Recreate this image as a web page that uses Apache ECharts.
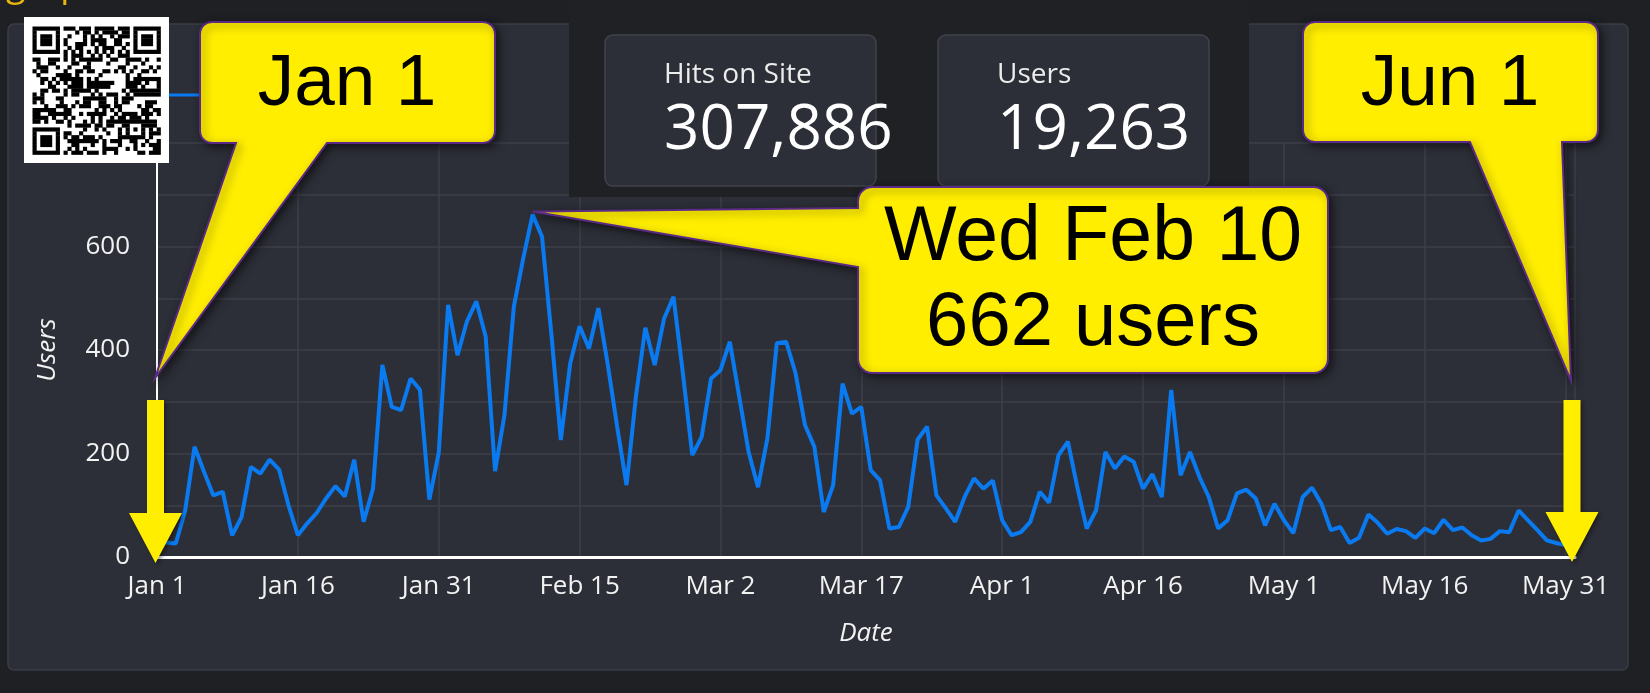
<!DOCTYPE html>
<html>
<head>
<meta charset="utf-8">
<script src="https://cdn.jsdelivr.net/npm/echarts@6/dist/echarts.min.js"></script>
<style>
html, body { margin: 0; padding: 0; background: #1f2024; }
#chart { width: 1650px; height: 693px; }
</style>
</head>
<body>
<div id="chart"></div>
<script>
// daily users, Jan 1 .. May 31 2021
var users = [
  28, 28, 26, 90, 213, 165, 119, 126, 42, 77,
  174, 161, 188, 169, 100, 42, 65, 85, 113, 137,
  117, 188, 68, 132, 371, 290, 284, 345, 323, 111,
  201, 487, 390, 455, 494, 426, 166, 274, 484, 577,
  662, 619, 430, 226, 374, 446, 403, 481, 372, 252,
  139, 310, 443, 371, 461, 503, 355, 197, 232, 345,
  361, 416, 310, 203, 135, 229, 413, 416, 355, 255,
  213, 87, 139, 335, 277, 290, 168, 148, 55, 58,
  97, 227, 252, 119, 94, 68, 116, 152, 132, 148,
  71, 42, 48, 68, 126, 105, 197, 223, 135, 55,
  90, 203, 171, 194, 184, 132, 160, 116, 323, 158,
  203, 155, 116, 55, 71, 123, 130, 113, 61, 103,
  71, 46, 116, 134, 103, 52, 58, 27, 37, 82,
  66, 45, 54, 50, 37, 55, 46, 72, 52, 57,
  42, 32, 35, 50, 48, 90, 71, 52, 32, 27,
  23
];
var startDate = [2021, 0, 1];
var dayCount = 151;          // Jan 1 .. Jun 1
var dayStep = 15;
var userMax = 800;
var userStep = 100;
var userLabelStep = 200;
var stats = [
  { title: 'Hits on Site', value: '307,886' },
  { title: 'Users', value: '19,263' }
];
var peakDay = 40;

var MONTHS = ['Jan','Feb','Mar','Apr','May','Jun','Jul','Aug','Sep','Oct','Nov','Dec'];
var WEEKDAYS = ['Sun','Mon','Tue','Wed','Thu','Fri','Sat'];
function dayDate(i) {
  return new Date(startDate[0], startDate[1], startDate[2] + i);
}
function shortDate(i) {
  var d = dayDate(i);
  return MONTHS[d.getMonth()] + ' ' + d.getDate();
}

var FONT = '"Open Sans", "Noto Sans", sans-serif';
var CALLOUT_FONT = '"Liberation Sans", Arial, sans-serif';
var YELLOW = '#ffee00';
var PURPLE = '#5b2a86';
var LABEL = '#f2f2f2';

var chart = echarts.init(document.getElementById('chart'));

chart.setOption({
  backgroundColor: '#1f2024',
  animation: false,
  textStyle: { fontFamily: FONT },
  legend: {
    data: ['Users'],
    left: 160,
    top: 78,
    icon: 'rect',
    itemWidth: 38,
    itemHeight: 3,
    textStyle: { color: LABEL, fontSize: 24, fontFamily: FONT }
  },
  grid: { left: 157, right: 75, top: 143, bottom: 136 },
  xAxis: {
    type: 'value',
    min: 0,
    max: dayCount,
    interval: dayStep,
    name: 'Date',
    nameLocation: 'middle',
    nameGap: 64,
    nameTextStyle: { color: LABEL, fontSize: 26, fontStyle: 'italic', fontWeight: 500, fontFamily: FONT },
    axisLine: { show: true, lineStyle: { color: '#ffffff', width: 3 } },
    axisTick: { show: false },
    axisLabel: {
      color: LABEL,
      fontSize: 26,
      fontWeight: 500,
      fontFamily: FONT,
      margin: 17,
      showMaxLabel: false,
      formatter: function (v) { return v % dayStep === 0 ? shortDate(v) : ''; }
    },
    splitLine: { show: true, lineStyle: { color: '#3c3f48', width: 1.5 } }
  },
  yAxis: {
    type: 'value',
    min: 0,
    max: userMax,
    interval: userStep,
    name: 'Users',
    nameLocation: 'middle',
    nameRotate: 90,
    nameGap: 96,
    nameTextStyle: { color: LABEL, fontSize: 26, fontStyle: 'italic', fontWeight: 500, fontFamily: FONT },
    axisLine: { show: true, lineStyle: { color: '#ffffff', width: 2 } },
    axisTick: { show: false },
    axisLabel: {
      color: LABEL,
      fontSize: 26,
      fontWeight: 500,
      fontFamily: FONT,
      margin: 27,
      formatter: function (v) { return v % userLabelStep === 0 ? String(v) : ''; }
    },
    splitLine: { show: true, lineStyle: { color: '#3c3f48', width: 1.5 } }
  },
  series: [{
    name: 'Users',
    type: 'line',
    symbol: 'none',
    color: '#0a7af0',
    lineStyle: { color: '#0a7af0', width: 4 },
    data: users.map(function (v, i) { return [i, v]; })
  }]
});

// ---- overlay graphics ----
// rounded box with a pointer tail, as polygon points
function corner(pts, cx, cy, r, a0) {
  for (var k = 0; k <= 6; k++) {
    var a = (a0 + k * 15) * Math.PI / 180;
    pts.push([cx + r * Math.cos(a), cy + r * Math.sin(a)]);
  }
}
function bubble(x0, y0, x1, y1, r, tail) {
  var pts = [];
  corner(pts, x1 - r, y0 + r, r, 270);   // top-right
  corner(pts, x1 - r, y1 - r, r, 0);     // bottom-right
  if (tail.side === 'bottom') {
    pts.push([tail.b, y1], tail.tip, [tail.a, y1]);
  }
  corner(pts, x0 + r, y1 - r, r, 90);    // bottom-left
  if (tail.side === 'left') {
    pts.push([x0, tail.b], tail.tip, [x0, tail.a]);
  }
  corner(pts, x0 + r, y0 + r, r, 180);   // top-left
  return pts;
}

function bubbleEl(pts) {
  return {
    type: 'polygon',
    z: 60,
    shape: { points: pts },
    style: {
      fill: YELLOW, stroke: PURPLE, lineWidth: 2, lineJoin: 'miter',
      shadowBlur: 8, shadowOffsetX: 3, shadowOffsetY: 3, shadowColor: 'rgba(0,0,0,0.55)'
    }
  };
}

function bubbleText(x, y, text, size) {
  return {
    type: 'text', z: 61, x: x, y: y,
    style: {
      text: text, fill: '#000000', font: size + 'px ' + CALLOUT_FONT,
      align: 'center', verticalAlign: 'middle'
    }
  };
}

function downArrow(cx, yTop, yHead, yTip) {
  return {
    type: 'polygon', z: 60,
    shape: { points: [
      [cx - 8.5, yTop], [cx + 8.5, yTop], [cx + 8.5, yHead], [cx + 26.5, yHead],
      [cx, yTip], [cx - 26.5, yHead], [cx - 8.5, yHead]
    ] },
    style: { fill: YELLOW, shadowBlur: 4, shadowOffsetX: 2, shadowOffsetY: 2, shadowColor: 'rgba(0,0,0,0.4)' }
  };
}

// QR-like decoration (finders, timing, alignment + fixed pattern) as rect runs
function qrRects(ox, oy, s) {
  var N = 33, m = [], r, c;
  for (r = 0; r < N; r++) { m.push([]); for (c = 0; c < N; c++) m[r].push(null); }
  function finder(R, C) {
    for (var dr = -1; dr <= 7; dr++) for (var dc = -1; dc <= 7; dc++) {
      var rr = R + dr, cc = C + dc;
      if (rr < 0 || cc < 0 || rr >= N || cc >= N) continue;
      var on = dr >= 0 && dr <= 6 && dc >= 0 && dc <= 6 &&
        (dr === 0 || dr === 6 || dc === 0 || dc === 6 || (dr >= 2 && dr <= 4 && dc >= 2 && dc <= 4));
      m[rr][cc] = on;
    }
  }
  finder(0, 0); finder(0, N - 7); finder(N - 7, 0);
  for (var i = 8; i < N - 8; i++) { m[6][i] = i % 2 === 0; m[i][6] = i % 2 === 0; }
  for (var dr = -2; dr <= 2; dr++) for (var dc = -2; dc <= 2; dc++) {
    m[26 + dr][26 + dc] = Math.max(Math.abs(dr), Math.abs(dc)) !== 1;
  }
  for (r = 0; r < N; r++) for (c = 0; c < N; c++) {
    if (m[r][c] === null) {
      var h = Math.imul(r * 31 + 7, 0x9e3779b1) ^ Math.imul(c * 17 + 3, 0x85ebca6b);
      h = Math.imul(h ^ (h >>> 15), 0x2c1b3c6d);
      m[r][c] = ((h >>> 12) & 15) < 8;
    }
  }
  var out = [];
  for (r = 0; r < N; r++) {
    c = 0;
    while (c < N) {
      if (m[r][c]) {
        var st = c;
        while (c < N && m[r][c]) c++;
        out.push({ type: 'rect', z: 71,
          shape: { x: ox + st * s, y: oy + r * s, width: (c - st) * s + 0.3, height: s + 0.3 },
          style: { fill: '#000000' } });
      } else c++;
    }
  }
  return out;
}

var tipPeak = chart.convertToPixel({ gridIndex: 0 }, [peakDay, users[peakDay]]);
var peakDate = dayDate(peakDay);
var peakLabel = WEEKDAYS[peakDate.getDay()] + ' ' + shortDate(peakDay);
var firstLabel = shortDate(0);
var lastLabel = shortDate(dayCount);

var elements = [
  // panel
  { type: 'rect', z: -10, shape: { x: 8, y: 24, width: 1620, height: 646, r: 6 },
    style: { fill: '#2d2f38', stroke: '#3a3d46', lineWidth: 1.5 } },
  // yellow title remnant at top edge
  { type: 'text', z: 5, x: 6, y: -14,
    style: { text: 'graph', fill: '#e8b80e', font: '36px ' + FONT, verticalAlign: 'middle' } },
  // stat block
  { type: 'rect', z: 50, shape: { x: 569, y: 0, width: 680, height: 197 }, style: { fill: '#202125' } }
];

var cardX = [605, 938];
stats.forEach(function (s, k) {
  elements.push({ type: 'rect', z: 51, shape: { x: cardX[k], y: 35, width: 271, height: 151, r: 8 },
    style: { fill: '#2d2f38', stroke: '#40434c', lineWidth: 1.5 } });
  elements.push({ type: 'text', z: 52, x: cardX[k] + 59, y: 75,
    style: { text: s.title, fill: '#ececec', font: '28px ' + FONT, verticalAlign: 'middle' } });
  elements.push({ type: 'text', z: 52, x: cardX[k] + 59, y: 131,
    style: { text: s.value, fill: '#ffffff', font: '62px ' + FONT, verticalAlign: 'middle' } });
});

elements.push(bubbleEl(bubble(200, 22, 495, 143, 12, { side: 'bottom', a: 236, b: 327, tip: [155, 378] })));
elements.push(bubbleText(347, 85, firstLabel, 73));
elements.push(bubbleEl(bubble(1303, 22, 1598, 142, 12, { side: 'bottom', a: 1470, b: 1562, tip: [1571, 381] })));
elements.push(bubbleText(1450, 85, lastLabel, 73));
elements.push(bubbleEl(bubble(858, 187, 1328, 373, 14, { side: 'left', a: 208, b: 267, tip: [tipPeak[0], tipPeak[1] - 3] })));
elements.push(bubbleText(1093, 239, peakLabel, 77));
elements.push(bubbleText(1093, 324, users[peakDay] + ' users', 76));
elements.push(downArrow(155.5, 400, 513, 563));
elements.push(downArrow(1572, 400, 512, 562));

// QR
elements.push({ type: 'rect', z: 70, shape: { x: 24, y: 17, width: 145, height: 146 }, style: { fill: '#ffffff' } });
elements = elements.concat(qrRects(32.5, 26.5, 3.88));

chart.setOption({ graphic: { elements: elements } });
</script>
</body>
</html>
